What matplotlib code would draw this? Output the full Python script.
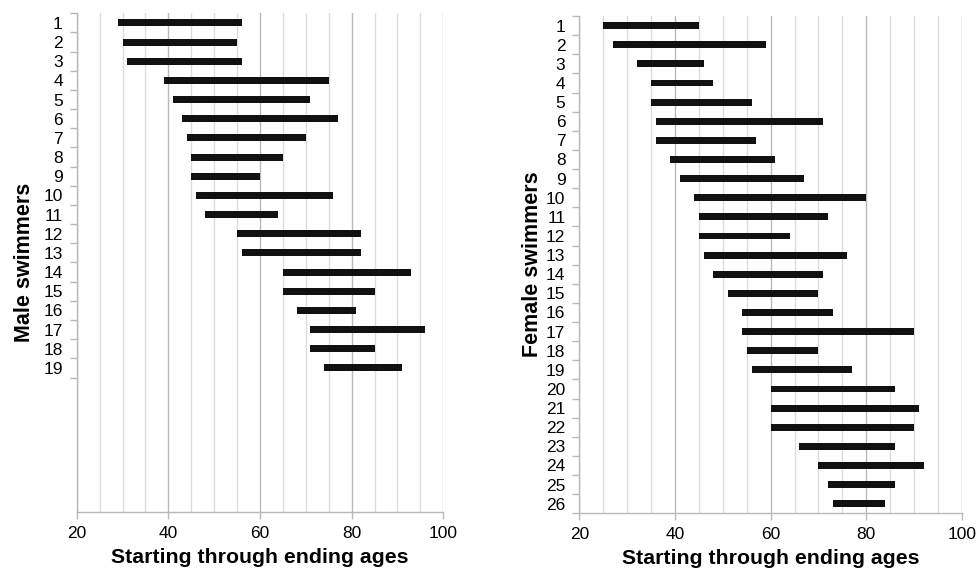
import matplotlib
matplotlib.use("Agg")
import matplotlib.pyplot as plt
import numpy as np

plt.rcParams['font.family'] = ['Liberation Sans', 'DejaVu Sans']

# start / end ages
male_ids = list(range(1, 20))
male_start = [29, 30, 31, 39, 41, 43, 44, 45, 45, 46, 48, 55, 56, 65, 65, 68, 71, 71, 74]
male_end = [56, 55, 56, 75, 71, 77, 70, 65, 60, 76, 64, 82, 82, 93, 85, 81, 96, 85, 91]

female_ids = list(range(1, 27))
female_start = [25, 27, 32, 35, 35, 36, 36, 39, 41, 44, 45, 45, 46, 48, 51, 54, 54, 55, 56,
                60, 60, 60, 66, 70, 72, 73]
female_end = [45, 59, 46, 48, 56, 71, 57, 61, 67, 80, 72, 64, 76, 71, 70, 73, 90, 70, 77,
              86, 91, 90, 86, 92, 86, 84]

x_ticks = [20, 40, 60, 80, 100]
n_slots = 26


def draw_panel(ax, ids, start, end, ylabel, ylabelpad):
    start = np.array(start)
    end = np.array(end)
    ax.barh(ids, end - start, left=start, height=0.36, color='#111111', zorder=3)

    ax.set_xlim(20, 100)
    ax.set_ylim(n_slots + 0.5, 0.5)
    ax.set_xticks(x_ticks)
    ax.set_xticks(np.arange(20, 101, 5), minor=True)
    ax.grid(True, axis='x', which='major', color='#b8b8b8', linewidth=1.0, zorder=0)
    ax.grid(True, axis='x', which='minor', color='#dcdcdc', linewidth=1.0, zorder=0)

    ax.set_yticks(ids)
    ax.set_yticklabels([str(i) for i in ids])
    ax.set_yticks(np.arange(0.5, len(ids) + 1, 1.0), minor=True)
    ax.tick_params(axis='y', which='major', length=0, pad=10, labelsize=12.5)
    ax.tick_params(axis='y', which='minor', length=5, color='#b8b8b8', width=1)
    ax.tick_params(axis='x', which='major', length=5, color='#b8b8b8', width=1,
                   labelsize=12.5, pad=5)
    ax.tick_params(axis='x', which='minor', length=0)

    for s in ['top', 'right']:
        ax.spines[s].set_visible(False)
    for s in ['left', 'bottom']:
        ax.spines[s].set_color('#b8b8b8')
        ax.spines[s].set_linewidth(1.0)

    ax.set_xlabel('Starting through ending ages', fontsize=15.3, fontweight='bold', labelpad=5)
    ax.set_ylabel(ylabel, fontsize=15.5, fontweight='bold', labelpad=ylabelpad)


fig = plt.figure(figsize=(9.76, 5.69), dpi=100)
W, H = 976, 569
ax1 = fig.add_axes([76.7 / W, 1 - 511.7 / H, (443.3 - 76.7) / W, (511.7 - 13.3) / H])
ax2 = fig.add_axes([579.3 / W, 1 - 513.3 / H, (962 - 579.3) / W, (513.3 - 16) / H])

draw_panel(ax1, male_ids, male_start, male_end, 'Male swimmers', 6)
draw_panel(ax2, female_ids, female_start, female_end, 'Female swimmers', 2)

fig.savefig('out.png', dpi=100)
